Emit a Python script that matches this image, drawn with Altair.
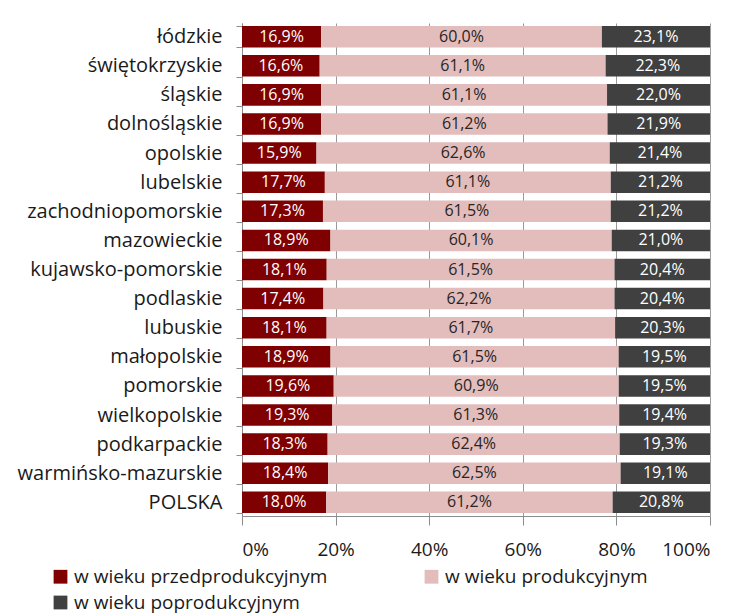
import altair as alt
import pandas as pd

regions = ["łódzkie", "świętokrzyskie", "śląskie", "dolnośląskie", "opolskie", "lubelskie",
           "zachodniopomorskie", "mazowieckie", "kujawsko-pomorskie", "podlaskie", "lubuskie",
           "małopolskie", "pomorskie", "wielkopolskie", "podkarpackie", "warmińsko-mazurskie", "POLSKA"]
pre = [16.9, 16.6, 16.9, 16.9, 15.9, 17.7, 17.3, 18.9, 18.1, 17.4, 18.1, 18.9, 19.6, 19.3, 18.3, 18.4, 18.0]
work = [60.0, 61.1, 61.1, 61.2, 62.6, 61.1, 61.5, 60.1, 61.5, 62.2, 61.7, 61.5, 60.9, 61.3, 62.4, 62.5, 61.2]
post = [23.1, 22.3, 22.0, 21.9, 21.4, 21.2, 21.2, 21.0, 20.4, 20.4, 20.3, 19.5, 19.5, 19.4, 19.3, 19.1, 20.8]
series = ["w wieku przedprodukcyjnym", "w wieku produkcyjnym", "w wieku poprodukcyjnym"]
colors = ["#7f0000", "#e3bcbc", "#404040"]

rows = []
for i, r in enumerate(regions):
    for k, (s, vals) in enumerate(zip(series, [pre, work, post])):
        rows.append({"region": r, "series": s, "order": k, "value": vals[i]})
df = pd.DataFrame(rows)

base = alt.Chart(df).transform_stack(
    stack="value", as_=["x0", "x1"], groupby=["region"],
    sort=[alt.SortField("order", order="ascending")], offset="normalize"
).transform_calculate(
    mid="(datum.x0 + datum.x1) / 2",
    lbl="replace(format(datum.value, '.1f'), '.', ',') + '%'"
)

yenc = alt.Y("region:N", sort=regions, title=None,
             scale=alt.Scale(paddingInner=0.26, paddingOuter=0.1),
             axis=alt.Axis(tickBand="extent", labelFontSize=20, labelColor="#1a1a1a",
                           domainColor="#8c8c8c", tickColor="#8c8c8c", tickSize=6,
                           labelPadding=14, minExtent=229, maxExtent=229, labelLimit=300))

bars = base.mark_bar().encode(
    x=alt.X("x0:Q", title=None, scale=alt.Scale(domain=[0, 1], nice=False),
            axis=alt.Axis(format="%", values=[0, 0.2, 0.4, 0.6, 0.8, 1.0], grid=True,
                          gridColor="#9a9a9a", labelFontSize=19, labelColor="#1a1a1a",
                          domainColor="#8c8c8c", tickColor="#8c8c8c", tickSize=9,
                          labelPadding=15)),
    x2="x1:Q",
    y=yenc,
    color=alt.Color("series:N", scale=alt.Scale(domain=series, range=colors), sort=series,
                    legend=alt.Legend(title=None, orient="none", legendX=-191, legendY=544,
                                      direction="horizontal",
                                      columns=2, columnPadding=94, rowPadding=6,
                                      symbolType="square", symbolSize=190, symbolStrokeWidth=0,
                                      labelFontSize=19, labelColor="#1a1a1a", labelLimit=400,
                                      labelOffset=4, symbolOffset=0)),
    order=alt.Order("order:Q")
)

texts = base.mark_text(fontSize=16).encode(
    x=alt.X("mid:Q"),
    y=alt.Y("region:N", sort=regions),
    text="lbl:N",
    color=alt.condition(alt.datum.series == "w wieku produkcyjnym", alt.value("#262626"), alt.value("#ffffff"))
)

chart = alt.layer(bars, texts).properties(
    width=468, height=493,
    padding={"left": 5, "top": 5, "right": 5, "bottom": 5}
).configure(font="Open Sans").configure_view(stroke=None)

chart.save("out.html", embed_options={"renderer": "svg", "actions": False})
